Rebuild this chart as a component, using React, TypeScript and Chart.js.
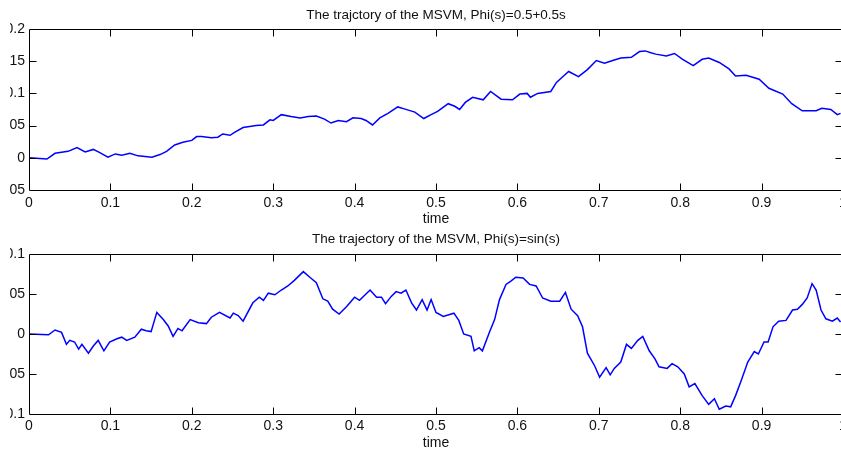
import React, { useEffect, useRef } from "react";
import { Chart, registerables } from "chart.js";

Chart.register(...registerables);

const FONT_FAMILY = "'Liberation Sans', Arial, Helvetica, sans-serif";

const TOP_TITLE = "The trajctory of the MSVM, Phi(s)=0.5+0.5s";
const BOTTOM_TITLE = "The trajectory of the MSVM, Phi(s)=sin(s)";
const X_LABEL = "time";

const xTicks = [0, 0.1, 0.2, 0.3, 0.4, 0.5, 0.6, 0.7, 0.8, 0.9, 1];
const topYTicks = [-0.05, 0, 0.05, 0.1, 0.15, 0.2];
const bottomYTicks = [-0.1, -0.05, 0, 0.05, 0.1];

// Top panel: Phi(s) = 0.5 + 0.5s
const topTime = [
  0, 0.022, 0.032, 0.048, 0.059, 0.069, 0.079, 0.087, 0.097, 0.106, 0.114, 0.124, 0.134, 0.151, 0.161, 0.169,
  0.179, 0.189, 0.2, 0.206, 0.212, 0.224, 0.232, 0.238, 0.247, 0.253, 0.263, 0.273, 0.279, 0.288, 0.296, 0.3,
  0.31, 0.322, 0.333, 0.343, 0.353, 0.363, 0.371, 0.38, 0.39, 0.398, 0.408, 0.414, 0.422, 0.431, 0.441, 0.453,
  0.461, 0.474, 0.485, 0.494, 0.502, 0.515, 0.523, 0.529, 0.536, 0.545, 0.558, 0.567, 0.58, 0.594, 0.603, 0.612,
  0.616, 0.625, 0.641, 0.648, 0.655, 0.663, 0.675, 0.686, 0.697, 0.707, 0.717, 0.727, 0.74, 0.75, 0.757, 0.764,
  0.77, 0.783, 0.793, 0.803, 0.816, 0.827, 0.835, 0.848, 0.86, 0.868, 0.881, 0.897, 0.909, 0.926, 0.937, 0.95,
  0.967, 0.974, 0.985, 0.993, 0.997,
];
const topValue = [
  0, -0.002, 0.007, 0.01, 0.016, 0.009, 0.013, 0.008, 0.001, 0.006, 0.004, 0.007, 0.003, 0.001, 0.005, 0.01,
  0.02, 0.024, 0.027, 0.033, 0.033, 0.031, 0.032, 0.037, 0.035, 0.04, 0.047, 0.049, 0.05, 0.051, 0.059, 0.058,
  0.067, 0.064, 0.062, 0.064, 0.065, 0.06, 0.054, 0.058, 0.056, 0.062, 0.061, 0.058, 0.051, 0.062, 0.069, 0.079,
  0.076, 0.071, 0.061, 0.067, 0.072, 0.084, 0.08, 0.075, 0.086, 0.094, 0.09, 0.103, 0.091, 0.09, 0.099, 0.1,
  0.094, 0.1, 0.103, 0.117, 0.125, 0.134, 0.126, 0.137, 0.151, 0.147, 0.151, 0.155, 0.156, 0.165, 0.166, 0.163,
  0.161, 0.158, 0.162, 0.153, 0.143, 0.153, 0.155, 0.148, 0.138, 0.127, 0.128, 0.122, 0.108, 0.099, 0.084, 0.073,
  0.073, 0.077, 0.075, 0.067, 0.069,
];

// Bottom panel: Phi(s) = sin(s)
const bottomTime = [
  0, 0.024, 0.032, 0.04, 0.046, 0.05, 0.056, 0.061, 0.065, 0.073, 0.079, 0.085, 0.092, 0.099, 0.108, 0.114,
  0.12, 0.13, 0.138, 0.144, 0.15, 0.157, 0.165, 0.171, 0.177, 0.183, 0.188, 0.198, 0.208, 0.218, 0.224, 0.234,
  0.247, 0.251, 0.257, 0.263, 0.275, 0.283, 0.288, 0.294, 0.302, 0.31, 0.318, 0.326, 0.337, 0.345, 0.353, 0.361,
  0.367, 0.373, 0.381, 0.39, 0.4, 0.406, 0.419, 0.427, 0.433, 0.438, 0.445, 0.451, 0.457, 0.463, 0.47, 0.476,
  0.483, 0.489, 0.494, 0.5, 0.509, 0.522, 0.528, 0.534, 0.543, 0.547, 0.553, 0.557, 0.566, 0.572, 0.578, 0.586,
  0.592, 0.598, 0.607, 0.615, 0.623, 0.631, 0.641, 0.652, 0.659, 0.666, 0.674, 0.68, 0.686, 0.695, 0.701, 0.709,
  0.714, 0.719, 0.727, 0.734, 0.74, 0.748, 0.754, 0.762, 0.769, 0.774, 0.784, 0.79, 0.797, 0.805, 0.811, 0.818,
  0.827, 0.835, 0.842, 0.848, 0.856, 0.862, 0.868, 0.875, 0.883, 0.891, 0.896, 0.903, 0.908, 0.914, 0.921, 0.93,
  0.938, 0.944, 0.95, 0.956, 0.962, 0.967, 0.973, 0.979, 0.987, 0.993, 0.997,
];
const bottomValue = [
  0, -0.001, 0.005, 0.002, -0.013, -0.008, -0.01, -0.019, -0.013, -0.024, -0.015, -0.008, -0.021, -0.01, -0.006, -0.004,
  -0.008, -0.004, 0.006, 0.004, 0.003, 0.027, 0.018, 0.01, -0.003, 0.007, 0.004, 0.018, 0.014, 0.013, 0.021, 0.027,
  0.02, 0.026, 0.023, 0.016, 0.039, 0.046, 0.042, 0.051, 0.049, 0.055, 0.06, 0.067, 0.078, 0.071, 0.064, 0.044,
  0.041, 0.031, 0.025, 0.034, 0.046, 0.042, 0.055, 0.046, 0.046, 0.038, 0.047, 0.053, 0.051, 0.055, 0.039, 0.03,
  0.043, 0.03, 0.043, 0.027, 0.022, 0.026, 0.017, 0, -0.003, -0.021, -0.017, -0.021, 0.003, 0.018, 0.043, 0.062,
  0.066, 0.071, 0.07, 0.062, 0.06, 0.045, 0.041, 0.041, 0.052, 0.031, 0.023, 0.009, -0.024, -0.04, -0.054, -0.042,
  -0.051, -0.043, -0.035, -0.013, -0.018, -0.008, -0.003, -0.021, -0.031, -0.041, -0.043, -0.037, -0.041, -0.05, -0.066, -0.062,
  -0.077, -0.088, -0.081, -0.094, -0.09, -0.091, -0.077, -0.058, -0.035, -0.022, -0.025, -0.01, -0.01, 0.009, 0.016, 0.017,
  0.03, 0.031, 0.037, 0.045, 0.063, 0.055, 0.03, 0.019, 0.016, 0.02, 0.015,
];

const fmt = (v: number | string) => String(+Number(v).toFixed(2));

const boxPlugin = {
  id: "matlabBox",
  afterDraw(chart: any) {
    const { ctx, chartArea, scales } = chart;
    const L = Math.round(chartArea.left) + 0.5;
    const R = Math.round(chartArea.right) - 0.5;
    const T = Math.round(chartArea.top) + 0.5;
    const B = Math.round(chartArea.bottom) + 0.5;
    const len = 7;
    ctx.save();
    ctx.strokeStyle = "#000";
    ctx.lineWidth = 1;
    ctx.beginPath();
    ctx.rect(L, T, R - L, B - T);
    for (const t of scales.x.ticks) {
      const px = Math.round(scales.x.getPixelForValue(t.value)) + 0.5;
      if (px <= L + 1 || px >= R - 1) continue;
      ctx.moveTo(px, B);
      ctx.lineTo(px, B - len);
      ctx.moveTo(px, T);
      ctx.lineTo(px, T + len);
    }
    for (const t of scales.y.ticks) {
      const py = Math.round(scales.y.getPixelForValue(t.value)) + 0.5;
      if (py <= T + 1 || py >= B - 1) continue;
      ctx.moveTo(L, py);
      ctx.lineTo(L + len, py);
      ctx.moveTo(R, py);
      ctx.lineTo(R - len, py);
    }
    ctx.stroke();
    ctx.restore();
  },
};

type PanelCfg = {
  title: string;
  titlePad: { top: number; bottom: number };
  time: number[];
  values: number[];
  yTicks: number[];
  tickPad: number;
  xAxisHeight: number;
  xTitlePadBottom: number;
};

function makeChart(canvas: HTMLCanvasElement, cfg: PanelCfg) {
  const font = { family: FONT_FAMILY, size: 14, weight: "normal" as const };
  const titleFont = { family: FONT_FAMILY, size: 13.5, weight: "normal" as const };
  const yMin = Math.min(...cfg.yTicks);
  const yMax = Math.max(...cfg.yTicks);
  return new Chart(canvas, {
    type: "line",
    data: {
      datasets: [
        {
          data: cfg.time.map((t, i) => ({ x: t, y: cfg.values[i] })),
          borderColor: "#0000ff",
          borderWidth: 1.5,
          pointRadius: 0,
          tension: 0,
          fill: false,
        },
      ],
    },
    options: {
      responsive: false,
      animation: false,
      devicePixelRatio: 1,
      layout: { padding: 0 },
      plugins: {
        legend: { display: false },
        tooltip: { enabled: false },
        title: {
          display: true,
          fullSize: false,
          text: cfg.title,
          color: "#111",
          font: titleFont,
          padding: cfg.titlePad,
        },
      },
      scales: {
        x: {
          type: "linear",
          min: 0,
          max: 1,
          grid: { display: false, drawTicks: false },
          border: { display: false },
          ticks: {
            color: "#111",
            font,
            padding: cfg.tickPad,
            autoSkip: false,
            maxRotation: 0,
            callback: (v: any) => fmt(v),
          },
          title: {
            display: true,
            text: X_LABEL,
            color: "#111",
            font,
            padding: { top: 0, bottom: cfg.xTitlePadBottom },
          },
          afterBuildTicks: (s: any) => {
            s.ticks = xTicks.map((value) => ({ value }));
          },
          afterFit: (s: any) => {
            s.height = cfg.xAxisHeight;
            s.paddingLeft = 0;
            s.paddingRight = 0;
          },
        },
        y: {
          type: "linear",
          min: yMin,
          max: yMax,
          grid: { display: false, drawTicks: false },
          border: { display: false },
          ticks: {
            color: "#111",
            font,
            padding: 4,
            autoSkip: false,
            callback: (v: any) => fmt(v),
          },
          afterBuildTicks: (s: any) => {
            s.ticks = cfg.yTicks.map((value) => ({ value }));
          },
          afterFit: (s: any) => {
            s.width = 41;
            s.paddingTop = 0;
            s.paddingBottom = 0;
          },
        },
      },
    },
    plugins: [boxPlugin],
  } as any);
}

export default function App() {
  const topRef = useRef<HTMLCanvasElement>(null);
  const bottomRef = useRef<HTMLCanvasElement>(null);

  useEffect(() => {
    const c1 = makeChart(topRef.current!, {
      title: TOP_TITLE,
      titlePad: { top: 6.7, bottom: 6.1 },
      time: topTime,
      values: topValue,
      yTicks: topYTicks,
      tickPad: 4.6,
      xAxisHeight: 38,
      xTitlePadBottom: 0.6,
    });
    const c2 = makeChart(bottomRef.current!, {
      title: BOTTOM_TITLE,
      titlePad: { top: 5.2, bottom: 6.6 },
      time: bottomTime,
      values: bottomValue,
      yTicks: bottomYTicks,
      tickPad: 3.9,
      xAxisHeight: 39,
      xTitlePadBottom: 1.2,
    });
    return () => {
      c1.destroy();
      c2.destroy();
    };
  }, []);

  return (
    <div
      style={{
        position: "fixed",
        left: 10,
        top: 0,
        width: 840,
        height: 453,
        overflow: "hidden",
        background: "#fff",
      }}
    >
      <canvas
        ref={topRef}
        width={855}
        height={228}
        style={{ position: "absolute", left: -22, top: 0, width: 855, height: 228 }}
      />
      <canvas
        ref={bottomRef}
        width={855}
        height={227}
        style={{ position: "absolute", left: -22, top: 226, width: 855, height: 227 }}
      />
    </div>
  );
}
